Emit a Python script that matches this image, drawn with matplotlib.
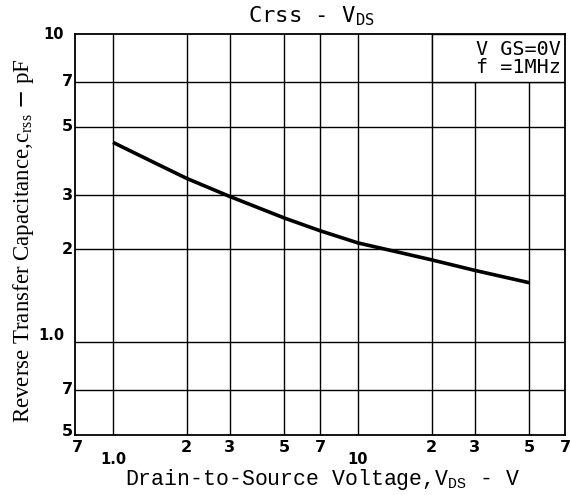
import matplotlib
matplotlib.use("Agg")
import matplotlib.pyplot as plt
from matplotlib.patches import Rectangle

# curve
vds = [1.0, 1.5, 2, 3, 5, 7, 10, 15, 20, 30, 50]
crss = [4.45, 3.80, 3.40, 2.97, 2.53, 2.30, 2.10, 1.95, 1.85, 1.71, 1.56]

xgrid = [1, 2, 3, 5, 7, 10, 20, 30, 50]
ygrid = [0.7, 1, 2, 3, 5, 7]
xtick_vals = [0.7, 1, 2, 3, 5, 7, 10, 20, 30, 50, 70]
xtick_lbls = ["7", "1.0", "2", "3", "5", "7", "10", "2", "3", "5", "7"]
ytick_vals = [0.5, 0.7, 1, 2, 3, 5, 7, 10]
ytick_lbls = ["5", "7", "1.0", "2", "3", "5", "7", "10"]

fig = plt.figure(figsize=(5.71, 4.95), dpi=100)
ax = fig.add_axes([75/571, 60/495, 490/571, 401/495])
ax.set_xscale("log")
ax.set_yscale("log")
ax.set_xlim(0.7, 70)
ax.set_ylim(0.5, 10)
ax.set_xticks([])
ax.set_yticks([])
ax.minorticks_off()
ax.tick_params(which="both", length=0, labelbottom=False, labelleft=False)
for s in ax.spines.values():
    s.set_linewidth(1.3)

for x in xgrid:
    ax.axvline(x, color="k", lw=1.0, zorder=1)
for y in ygrid:
    ax.axhline(y, color="k", lw=1.0, zorder=1)

# condition box in the top right corner
ax.add_patch(Rectangle((20, 7), 50, 3, facecolor="white", edgecolor="k", lw=1.0, zorder=2))
ax.text(0.992, 0.985, "V GS=0V\nf =1MHz", transform=ax.transAxes, ha="right", va="top",
        family="DejaVu Sans Mono", fontsize=14.5, linespacing=0.9, zorder=3)

ax.plot(vds, crss, color="k", lw=2.6, solid_capstyle="butt", zorder=4)

tx = ax.get_xaxis_transform()
for v, l in zip(xtick_vals, xtick_lbls):
    dy = -25 if l in ("1.0", "10") else -12
    dx = 2 if v == 0.7 else 0
    ax.annotate(l, (v, 0), xycoords=tx, xytext=(dx, dy), textcoords="offset pixels",
                ha="center", va="center", fontsize=11.5 if len(l) == 1 else 10.5,
                fontweight="bold")
ty = ax.get_yaxis_transform()
for v, l in zip(ytick_vals, ytick_lbls):
    dx = -11 if l in ("1.0", "10") else -2
    dy = 0
    if l == "1.0":
        dy = 7
    if v == 0.5:
        dy = 4
    ax.annotate(l, (0, v), xycoords=ty, xytext=(dx, dy), textcoords="offset pixels",
                ha="right", va="center", fontsize=11.5 if len(l) == 1 else 10.5,
                fontweight="bold")

fig.text(312/571, 1 - 16/495, r"Crss - V$_{\mathregular{DS}}$", ha="center", va="center",
         family="DejaVu Sans Mono", fontsize=16)
fig.text(322/571, 1 - 480/495, r"Drain-to-Source Voltage,V$_{\mathregular{DS}}$ - V",
         ha="center", va="center", family="Liberation Mono", fontsize=15.5)
fig.text(24/571, 1 - 241/495, r"Reverse Transfer Capacitance,c$_{\mathregular{rss}}$ $-$ pF",
         ha="center", va="center", rotation=90, family="Liberation Serif", fontsize=16.5)

fig.savefig("out.png", dpi=100)
